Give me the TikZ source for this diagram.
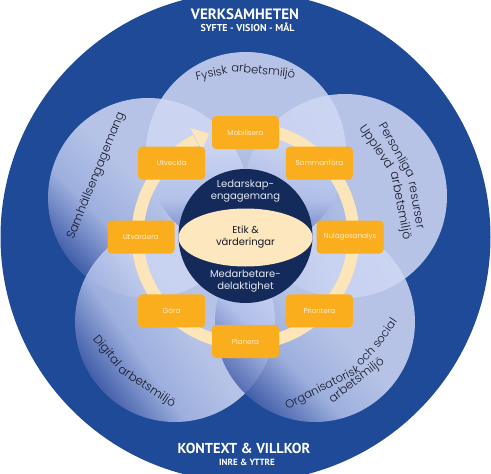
\documentclass[tikz,border=0pt]{standalone}
\usepackage{fontspec}
\setmainfont{Poppins}
\IfFontExistsTF{Poppins Light}{\newfontfamily\lightfam{Poppins Light}}{\newfontfamily\lightfam{Poppins}}
\newfontfamily\titlefont{PT Sans}
\usetikzlibrary{calc}
\definecolor{outerblue}{RGB}{31,74,152}
\definecolor{navy}{RGB}{20,42,90}
\definecolor{creamfill}{RGB}{253,231,190}
\definecolor{ringcol}{RGB}{253,229,186}
\definecolor{boxorange}{RGB}{250,173,29}
\definecolor{plight}{RGB}{207,216,244}
\definecolor{pmid}{RGB}{178,192,234}
\definecolor{pdark}{RGB}{72,98,172}
\definecolor{petaltext}{RGB}{25,25,40}
\definecolor{centerlight}{RGB}{228,232,243}
\pgfdeclareverticalshading{petalshade}{100bp}{color(0bp)=(pdark); color(25bp)=(pdark); color(38bp)=(pmid); color(52bp)=(plight); color(100bp)=(plight)}
\newcommand\boxfont{\lightfam\fontsize{7.2}{8}\selectfont}
\newcommand\centerfont{\fontsize{10}{12}\selectfont}
% words set along an arc: name, centre angle, baseline radius, sign (+1 tops inward, -1 tops outward), target width, full text, word list
\newcommand\arcline[7]{%
  \begingroup
  \lightfam\fontsize{10}{12}\selectfont
  \pgfmathsetmacro\fsz{10*#5/width("#6")}%
  \fontsize{\fsz}{\fsz}\selectfont
  \pgfmathsetmacro\Wt{width("#6")}%
  \pgfmathsetmacro\spw{width("x x")-width("xx")}%
  \xdef\arccum{0}%
  \foreach \w [count=\i] in {#7} {%
    \pgfmathsetmacro\ww{width("\w")}%
    \pgfmathsetmacro\ang{#2 + #4*(\arccum + \ww/2 - \Wt/2)/#3*57.2958}%
    \pgfmathsetmacro\rot{\ang + #4*90}%
    \node[text=petaltext, inner sep=0pt, anchor=base, rotate=\rot] (#1\i) at ($(C)+(\ang:#3)$) {\w};
    \pgfmathsetmacro\newcum{\arccum + \ww + \spw}%
    \xdef\arccum{\newcum}%
  }%
  \endgroup
}
\tikzset{
  petal/.style={shading=petalshade, fill opacity=0.86},
  stepbox/.style={fill=boxorange, rounded corners=4pt, minimum width=67pt, minimum height=33pt, text=white, font=\boxfont, inner sep=1pt},
  centerlabel/.style={align=center, font=\centerfont, inner sep=0pt},
}
\begin{document}
\begin{tikzpicture}[x=1pt,y=1pt]
\useasboundingbox (0,0) rectangle (491,-474);
\clip (0,0) rectangle (491,-474);
\coordinate (C) at (245.5,-236);
\coordinate (B) at (245.5,-237);
% outer circle
\fill[outerblue] (245.5,-237) circle[radius=245];
% petals
\shade[petal, shading angle=-45] (148,-198) circle[radius=100];
\shade[petal, shading angle=-65] (345,-196) circle[radius=102];
\shade[petal, shading angle=-55] (175,-322) circle[radius=100];
\shade[petal, shading angle=-45] (315,-322) circle[radius=100];
\shade[petal, shading angle=0] (246,-152) circle[radius=100];
% ring with arrow
\draw[ringcol, line width=12pt] ($(C)+(88:108)$) arc[start angle=88, end angle=-242.5, radius=108];
\fill[ringcol] ($(C)+(117:96)$) -- ($(C)+(117:121)$) -- ($(C)+(109.5:108.5)$) -- cycle;
% centre
\fill[navy] (C) circle[radius=67];
\fill[creamfill] (245.5,-237.5) ellipse[x radius=67, y radius=29];
\node[centerlabel, text=centerlight] (lead) at (245.5,-191) {Ledarskap-\\engagemang};
\node[centerlabel, text=petaltext] (etik) at (245.5,-237.5) {Etik \&\\värderingar};
\node[centerlabel, text=centerlight] (medarb) at (245.5,-281.5) {Medarbetare-\\delaktighet};
% boxes
\node[stepbox] (mob) at ($(B)+(90:104.5)$) {Mobilisera};
\node[stepbox] (sam) at ($(B)+(45:104.5)$) {Sammanföra};
\node[stepbox] (nul) at ($(B)+(0:104.5)$) {Nulägesanalys};
\node[stepbox] (pri) at ($(B)+(-45:104.5)$) {Prioritera};
\node[stepbox] (pla) at ($(B)+(-90:104.5)$) {Planera};
\node[stepbox] (gor) at ($(B)+(-135:104.5)$) {Göra};
\node[stepbox] (utva) at ($(B)+(180:104.5)$) {Utvärdera};
\node[stepbox] (utve) at ($(B)+(135:104.5)$) {Utveckla};
% petal labels
\arcline{fys}{90}{162.5}{-1}{99}{Fysisk arbetsmiljö}{Fysisk,arbetsmiljö}
\arcline{samh}{158}{158}{-1}{136}{Samhällsengagemang}{Samhällsengagemang}
\arcline{pers}{21}{170}{-1}{112}{Personliga resurser}{Personliga,resurser}
\arcline{uppl}{21}{154.5}{-1}{122}{Upplevd arbetsmiljö}{Upplevd,arbetsmiljö}
\arcline{dig}{230.5}{183.5}{1}{106}{Digital arbetsmiljö}{Digital,arbetsmiljö}
\arcline{org}{307}{173.5}{1}{143}{Organisatorisk och social}{Organisatorisk,och,social}
\arcline{orgb}{307.6}{185.5}{1}{66}{arbetsmiljö}{arbetsmiljö}
% titles
\node[text=white, font=\titlefont\bfseries\fontsize{15}{16}\selectfont, inner sep=0pt] (t1) at (245,-14) {VERKSAMHETEN};
\node[text=white, font=\titlefont\bfseries\fontsize{10}{11}\selectfont, inner sep=0pt] (t2) at (247.5,-27.5) {SYFTE - VISION - MÅL};
\node[text=white, font=\titlefont\bfseries\fontsize{14.4}{16}\selectfont, inner sep=0pt] (t3) at (244,-448.5) {KONTEXT \& VILLKOR};
\node[text=white, font=\titlefont\bfseries\fontsize{9}{10}\selectfont, inner sep=0pt] (t4) at (247,-462.5) {INRE \& YTTRE};
\end{tikzpicture}
\end{document}
